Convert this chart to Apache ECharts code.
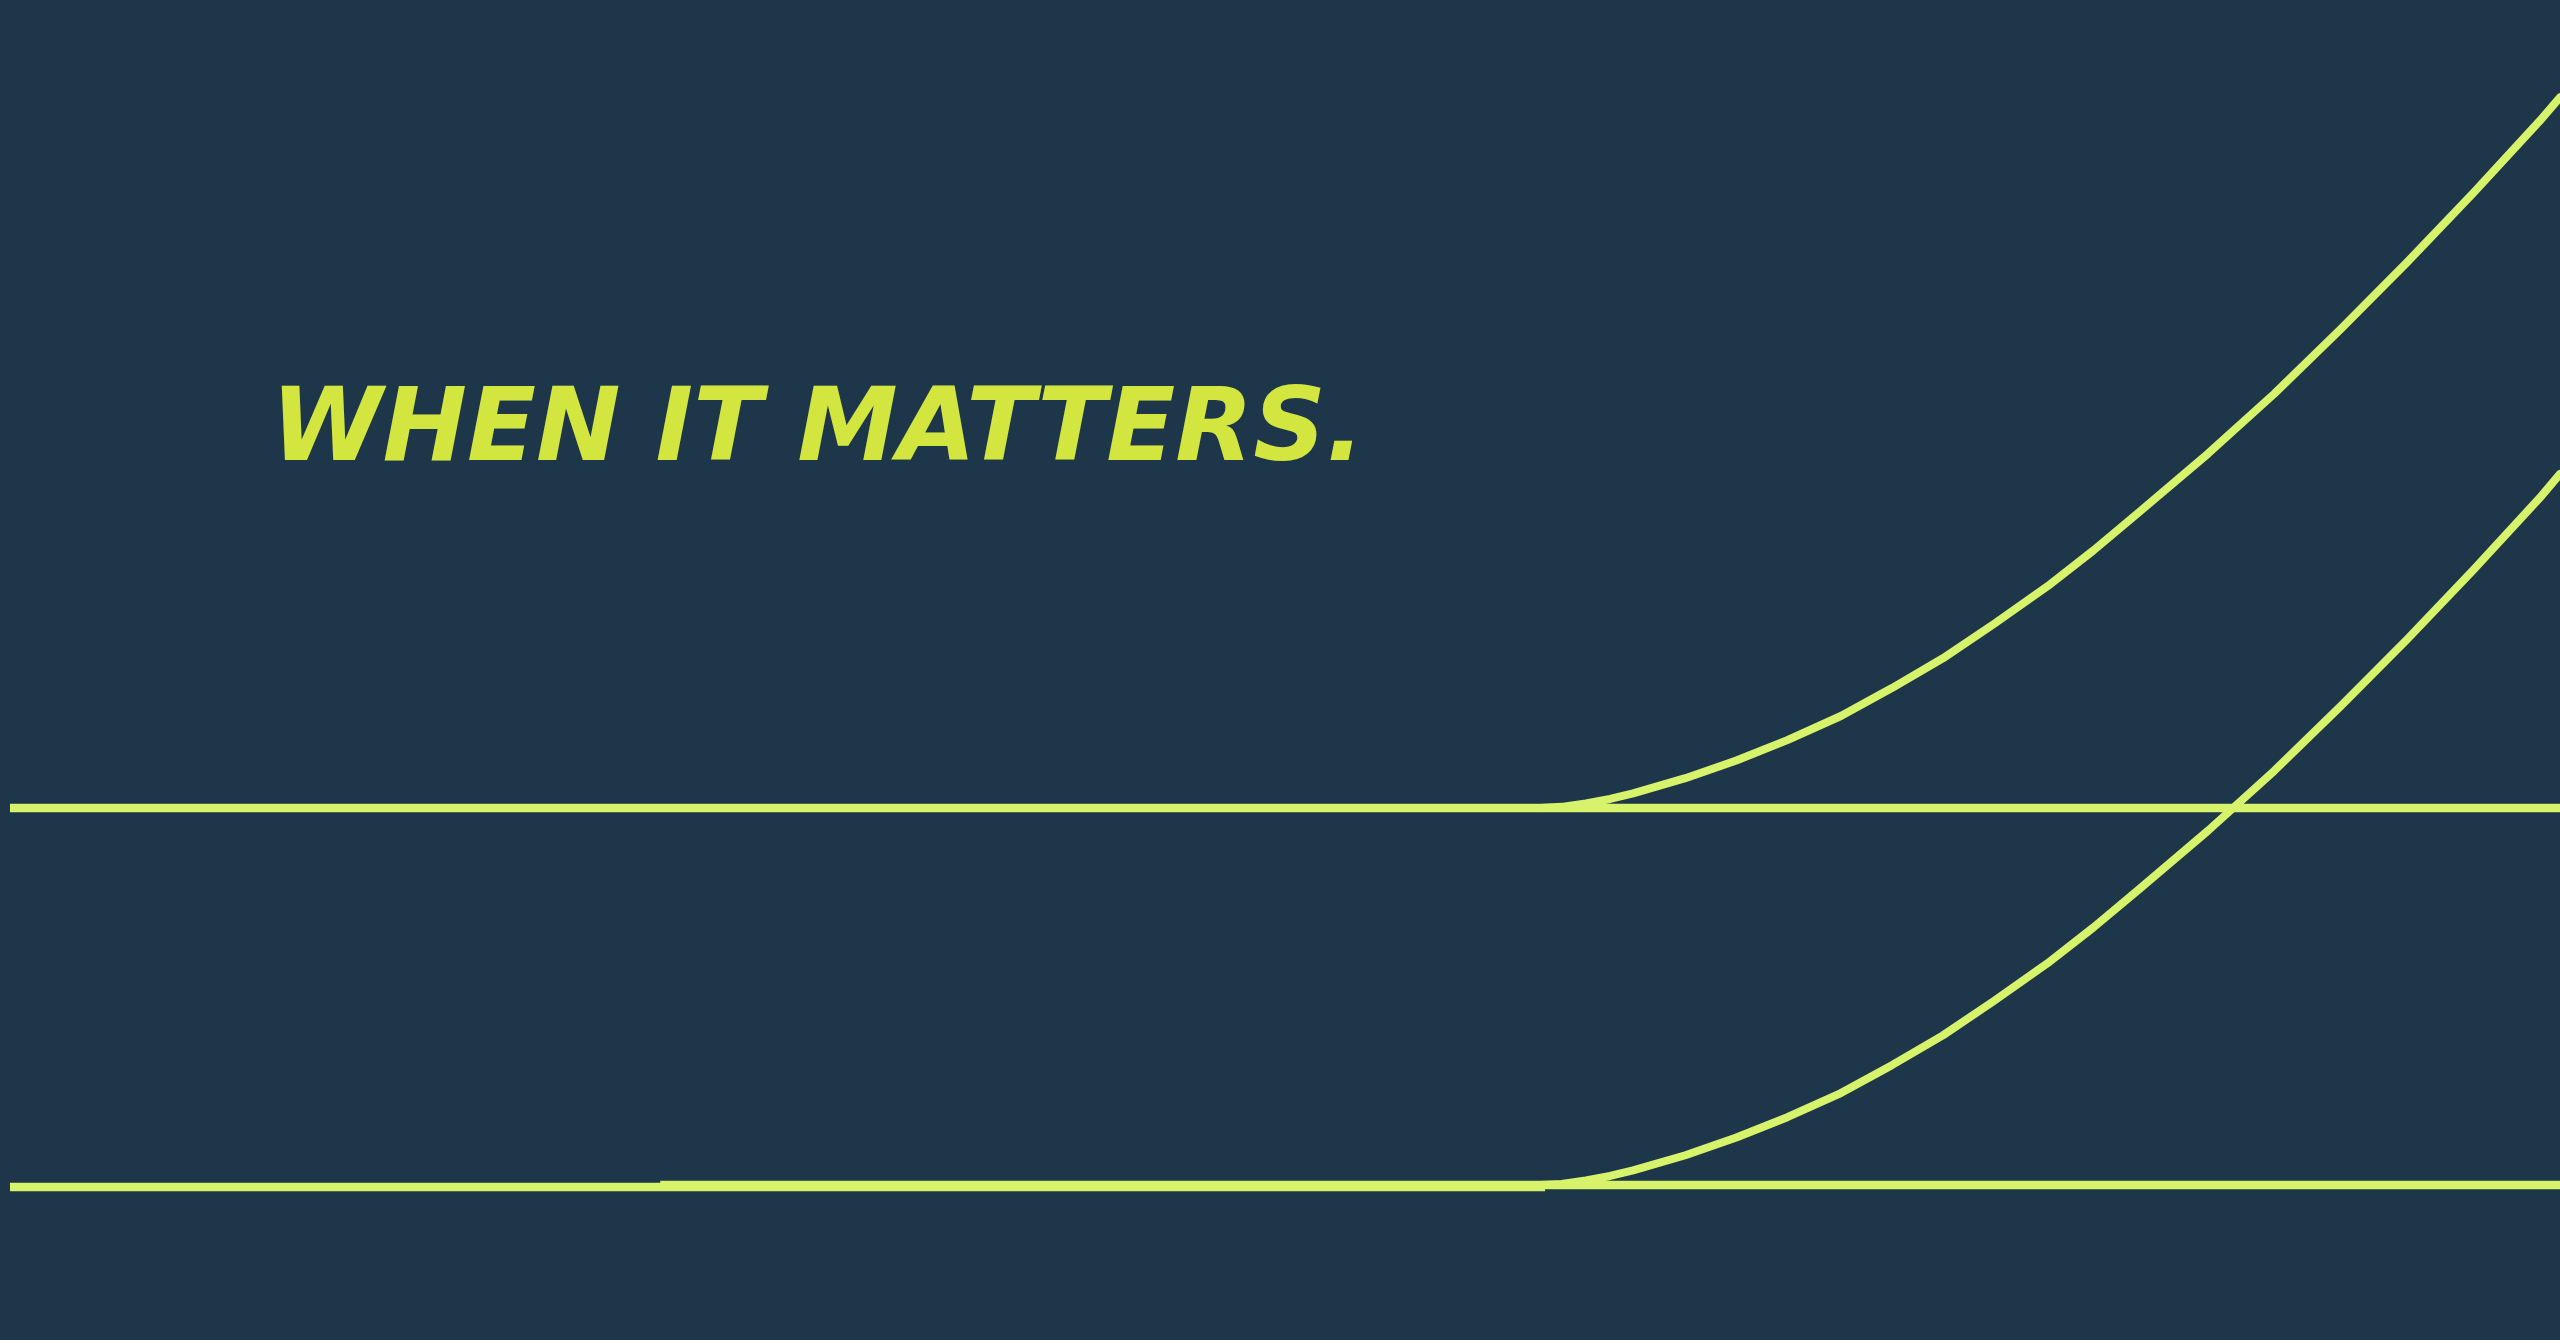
<!DOCTYPE html>
<html>
<head>
<meta charset="utf-8">
<script src="https://cdn.jsdelivr.net/npm/echarts@6/dist/echarts.min.js"></script>
<style>
  html, body { margin: 0; padding: 0; background: #1d3649; }
  #chart { width: 2560px; height: 1340px; }
</style>
</head>
<body>
<div id="chart"></div>
<script>
// headline
const headline = "WHEN IT MATTERS."

// upper band: flat baseline at 100, curve leaving it around x=60
const upperFlat = [[0, 100], [100, 100]]
const upperCurve = [
    [60.0, 100.0], [60.85, 100.3], [61.8, 101.2], [62.75, 102.4], [63.65, 103.9],
    [65.7, 107.9], [67.7, 112.6], [69.7, 118.0], [71.8, 124.4], [73.8, 131.8],
    [75.8, 139.7], [77.8, 148.8], [79.9, 158.8], [81.7, 168.3], [83.5, 178.5],
    [86.2, 194.0], [88.8, 209.9], [91.4, 227.0], [94.0, 244.7], [96.6, 263.1],
    [99.2, 282.2], [100, 288.5]
]

// lower band: two flat pieces slightly offset, plus its curve
const lowerFlatA = [[0, -0.5], [60.2, -0.5]]
const lowerFlatB = [[25.5, 0], [100, 0]]
const lowerCurve = [
    [60.0, 0.0], [60.85, 0.3], [61.8, 1.2], [62.75, 2.4], [63.65, 3.9],
    [65.7, 7.9], [67.7, 12.6], [69.7, 18.0], [71.8, 24.4], [73.8, 31.8],
    [75.8, 39.7], [77.8, 48.8], [79.9, 58.8], [81.7, 68.3], [83.5, 78.5],
    [86.2, 94.0], [88.8, 109.9], [91.4, 127.0], [94.0, 144.7], [96.6, 163.1],
    [99.2, 182.2], [100, 188.6]
]

const lineColor = "#d6f36b"

function flat(data) {
    return {
        type: "line", data: data, symbol: "none", silent: true,
        lineStyle: { color: lineColor, width: 8.5, cap: "butt" }
    }
}

function curve(data) {
    return {
        type: "line", data: data, symbol: "none", silent: true,
        smooth: false,
        lineStyle: { color: lineColor, width: 8, cap: "round", join: "round" }
    }
}

const chart = echarts.init(document.getElementById("chart"), null, { renderer: "canvas" })

chart.setOption({
    backgroundColor: "#1d3649",
    animation: false,
    title: {
        text: headline,
        left: 271,
        top: 383,
        padding: 0,
        textStyle: {
            color: "#d3e640",
            fontFamily: "DejaVu Sans",
            fontWeight: "bold",
            fontStyle: "italic",
            fontSize: 101,
            lineHeight: 101
        }
    },
    grid: { left: 10, right: 0, top: 0, bottom: 0 },
    xAxis: { type: "value", min: 0, max: 100, show: false },
    yAxis: { type: "value", min: -41.1, max: 314.3, show: false },
    series: [
        flat(upperFlat),
        curve(upperCurve),
        flat(lowerFlatA),
        flat(lowerFlatB),
        curve(lowerCurve)
    ]
})
</script>
</body>
</html>
